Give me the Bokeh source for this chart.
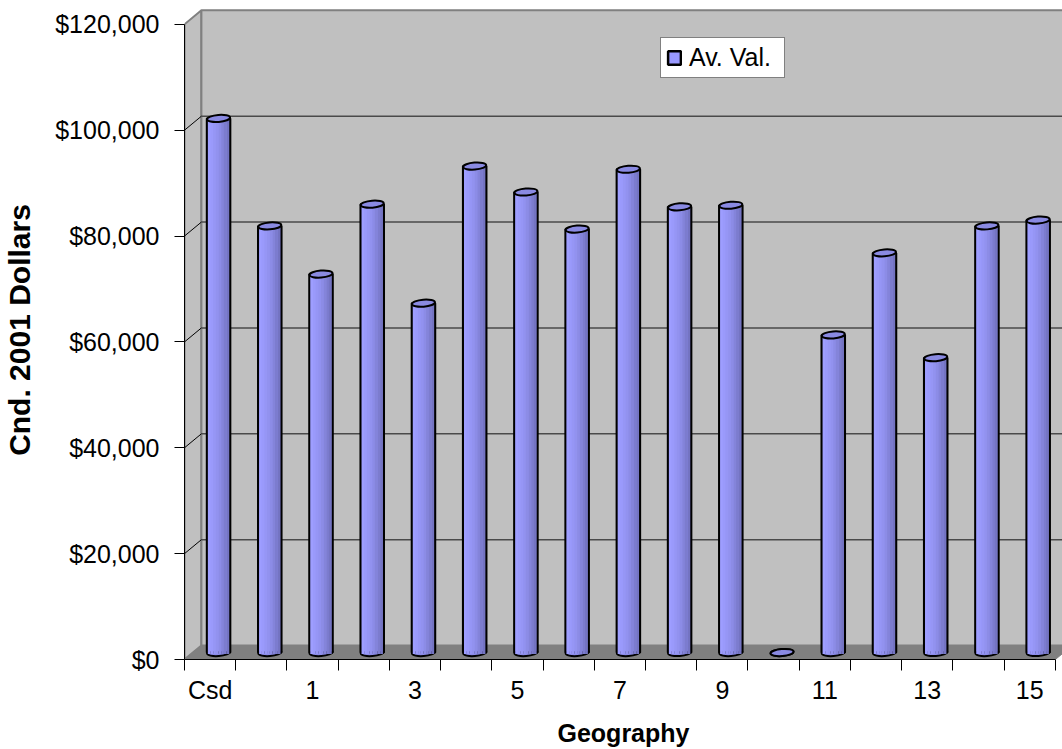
from bokeh.plotting import figure
from bokeh.models import Range1d, FixedTicker, NumeralTickFormatter, Legend, LegendItem
from bokeh.embed import file_html
from bokeh.resources import INLINE

# --- data -------------------------------------------------------------
categories = ["Csd", "0", "1", "2", "3", "4", "5", "6", "7", "8", "9",
              "10", "11", "12", "13", "14", "15"]
av_val = [100900, 80600, 71500, 84700, 66000, 91900, 87000, 80000, 91300,
          84200, 84500, 0, 60000, 75500, 55700, 80600, 81700]
y_ticks = [0, 20000, 40000, 60000, 80000, 100000, 120000]

# --- styling / 3-D projection constants ---------------------------------
FONT = "Liberation Sans"
N = len(categories)
Y_MAX = y_ticks[-1]
DX = 0.33        # depth offset along x (category units)
DY = 2640        # depth offset along y (dollars)
BAR_W = 0.45     # cylinder diameter (category units)
WALL = "#C0C0C0"
EDGE = "#808080"
SHADES = ["#9E9EFF", "#9A9AFB", "#9696F5", "#9292EF", "#8C8CE6",
          "#8484DA", "#7C7CCE", "#7474C2"]

p = figure(width=1062, height=749,
           x_range=Range1d(0, 17.14), y_range=Range1d(0, 124500),
           output_backend="svg", toolbar_location=None,
           min_border_left=183, min_border_right=0,
           min_border_top=0, min_border_bottom=89,
           outline_line_color=None,
           background_fill_color="white", border_fill_color="white")
p.grid.visible = False

# side wall, back wall and floor of the 3-D box
p.patch([0, 0, DX, DX], [0, Y_MAX, Y_MAX + DY, DY],
        fill_color=WALL, line_color=EDGE, line_width=2)
p.quad(left=DX, right=N + DX, bottom=DY, top=Y_MAX + DY,
       fill_color=WALL, line_color=EDGE, line_width=2)
p.patch([0, N, N + DX, DX], [0, 0, DY, DY],
        fill_color=EDGE, line_color=EDGE, line_width=1)

# gridlines on the back wall and their diagonals across the side wall
inner = y_ticks[1:-1]
p.segment(x0=[DX] * len(inner), y0=[t + DY for t in inner],
          x1=[N + DX] * len(inner), y1=[t + DY for t in inner],
          line_color="#4a4a4a", line_width=1.5)
p.segment(x0=[0] * len(inner), y0=inner,
          x1=[DX] * len(inner), y1=[t + DY for t in inner],
          line_color="black", line_width=1)

# cylinders, standing at mid depth
xc = [i + 0.5 + DX / 2 for i in range(N)]
base = DY / 2
tops = [v + base for v in av_val]

p.ellipse(x=xc, y=[base] * N, width=BAR_W, height=7, height_units="screen",
          angle=0.08, fill_color="#8C8CE8", line_color="black", line_width=2)
bars = p.vbar(x=xc, width=BAR_W, bottom=base, top=tops,
              fill_color="#9999FF", line_color="black", line_width=2.5)
n_sh = len(SHADES)
sw = (BAR_W - 0.035) / n_sh
for k, shade in enumerate(SHADES):
    off = (k - (n_sh - 1) / 2) * sw
    p.vbar(x=[x + off for x in xc], width=sw + 0.003,
           bottom=base - 260, top=tops,
           fill_color=shade, line_color=None)
p.ellipse(x=xc, y=tops, width=BAR_W, height=7, height_units="screen",
          angle=0.08, fill_color="#8A8AE2", line_color="black", line_width=2)

# --- axes --------------------------------------------------------------
xa = p.xaxis[0]
xa.ticker = FixedTicker(ticks=[i + 0.5 for i in range(N)],
                        minor_ticks=list(range(N + 1)))
xa.major_label_overrides = {i + 0.5: (c if i % 2 == 0 else "")
                            for i, c in enumerate(categories)}
xa.bounds = (0, N)
xa.major_tick_out = 0
xa.major_tick_in = 0
xa.minor_tick_out = 11
xa.minor_tick_in = 0
xa.minor_tick_line_color = "black"
xa.axis_line_color = "black"
xa.major_label_standoff = 5
xa.major_label_text_font = FONT
xa.major_label_text_font_size = "25px"
xa.major_label_text_color = "black"
xa.axis_label = "Geography"
xa.axis_label_text_font = FONT
xa.axis_label_text_font_size = "25px"
xa.axis_label_text_font_style = "bold"
xa.axis_label_text_color = "black"
xa.axis_label_standoff = 12

ya = p.yaxis[0]
ya.ticker = FixedTicker(ticks=y_ticks, minor_ticks=[])
ya.formatter = NumeralTickFormatter(format="$0,0")
ya.bounds = (0, Y_MAX)
ya.major_tick_out = 10
ya.major_tick_in = 0
ya.major_tick_line_color = "black"
ya.axis_line_color = "black"
ya.major_label_standoff = 15
ya.major_label_text_font = FONT
ya.major_label_text_font_size = "25px"
ya.major_label_text_color = "black"
ya.axis_label = "Cnd. 2001 Dollars"
ya.axis_label_text_font = FONT
ya.axis_label_text_font_size = "30px"
ya.axis_label_text_font_style = "bold"
ya.axis_label_text_color = "black"
ya.axis_label_standoff = 16

# --- legend ------------------------------------------------------------
legend = Legend(items=[LegendItem(label="Av. Val.", renderers=[bars])],
                location=(476, 581), margin=0, padding=5, spacing=0,
                glyph_width=16, glyph_height=17, label_standoff=7,
                label_width=90,
                border_line_color=EDGE, border_line_width=1.5,
                border_line_alpha=1,
                background_fill_color="white", background_fill_alpha=1,
                label_text_font=FONT, label_text_font_size="25px",
                label_text_color="black")
p.add_layout(legend)

open("out.html", "w").write(file_html(p, INLINE))
